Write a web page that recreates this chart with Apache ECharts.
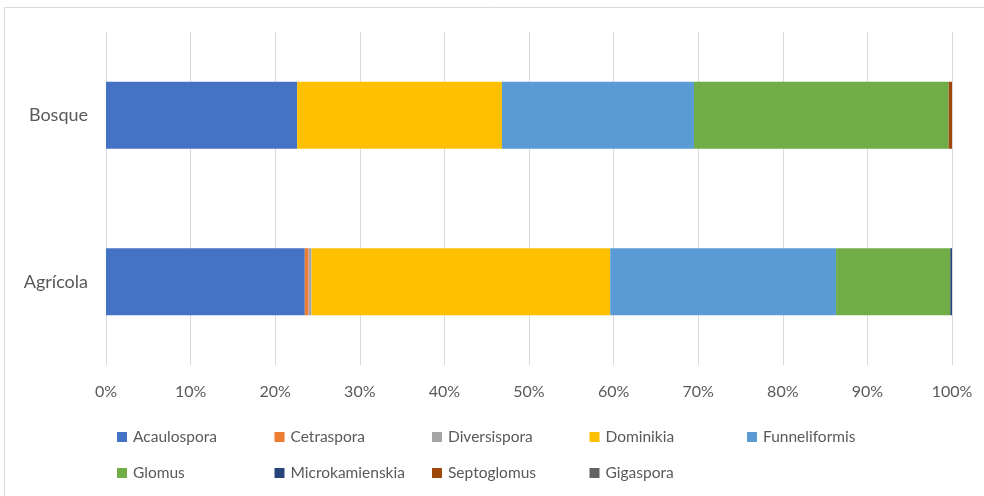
<!DOCTYPE html>
<html>
<head>
<meta charset="utf-8">
<script src="https://cdn.jsdelivr.net/npm/echarts@6/dist/echarts.min.js"></script>
<style>
html,body{margin:0;padding:0;background:#fff;}
#c{width:984px;height:496px;}
</style>
</head>
<body>
<div id="c"></div>
<script>
const categories = ['Agrícola', 'Bosque'];
const seriesNames = ['Acaulospora','Cetraspora','Diversispora','Dominikia','Funneliformis','Glomus','Microkamienskia','Septoglomus','Gigaspora'];
// values in percent, order matches categories
const acaulospora = [23.5, 22.6];
const cetraspora = [0.45, 0];
const diversispora = [0.35, 0];
const dominikia = [35.3, 24.2];
const funneliformis = [26.7, 22.7];
const glomus = [13.5, 30.1];
const microkamienskia = [0.2, 0];
const septoglomus = [0, 0.4];
const gigaspora = [0, 0];
const tickLabels = ['0%','10%','20%','30%','40%','50%','60%','70%','80%','90%','100%'];

const seriesValues = [acaulospora, cetraspora, diversispora, dominikia, funneliformis, glomus, microkamienskia, septoglomus, gigaspora];
const colors = ['#4472C4','#ED7D31','#A5A5A5','#FFC000','#5B9BD5','#70AD47','#264478','#9E480E','#636363'];

const chart = echarts.init(document.getElementById('c'));
const txt = '#595959';
const font = 'Lato, "Open Sans", sans-serif';

const legends = seriesNames.map((n, i) => ({
  data: [n],
  left: 117 + (i < 5 ? i : i - 5) * 157.5,
  top: i < 5 ? 429 : 465,
  icon: 'rect',
  itemWidth: 10,
  itemHeight: 10,
  itemGap: 0,
  padding: 0,
  textStyle: { color: txt, fontSize: 15.5, fontFamily: font, padding: [0, 0, 0, 1] },
  selectedMode: false
}));

chart.setOption({
  animation: false,
  backgroundColor: '#fff',
  color: colors,
  graphic: [{
    type: 'rect',
    shape: { x: 4.5, y: 7.5, width: 1000, height: 500 },
    style: { fill: 'none', stroke: '#d9d9d9', lineWidth: 1 },
    silent: true
  }],
  legend: legends,
  grid: { left: 106, right: 32, top: 32, bottom: 131, containLabel: false },
  xAxis: {
    type: 'value',
    min: 0, max: 100, interval: 10,
    axisLine: { show: false },
    axisTick: { show: false },
    splitLine: { show: true, lineStyle: { color: '#d9d9d9', width: 1 } },
    axisLabel: {
      color: txt, fontSize: 16, fontFamily: font, margin: 19,
      formatter: v => tickLabels[Math.round(v / 10)]
    }
  },
  yAxis: {
    type: 'category',
    data: categories,
    axisLine: { show: false },
    axisTick: { show: false },
    axisLabel: { color: txt, fontSize: 18, fontFamily: font, margin: 18 }
  },
  series: seriesNames.map((n, i) => ({
    name: n,
    type: 'bar',
    stack: 'total',
    barWidth: 67,
    data: seriesValues[i],
    itemStyle: { color: colors[i] }
  }))
});
</script>
</body>
</html>
